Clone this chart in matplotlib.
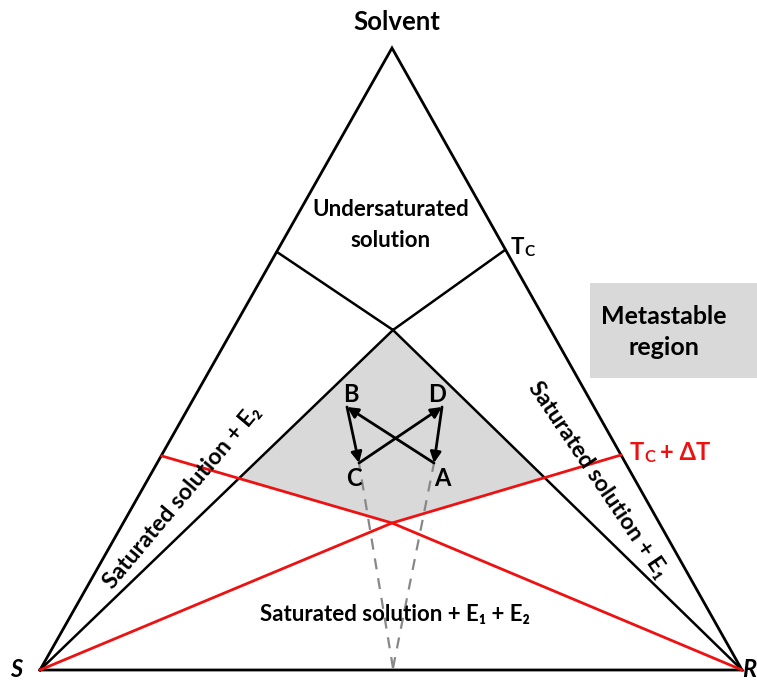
import numpy as np
import matplotlib
matplotlib.use("Agg")
import matplotlib.pyplot as plt
from matplotlib.patches import Polygon, Rectangle

plt.rcParams['font.family'] = ['Lato', 'DejaVu Sans']
plt.rcParams['font.weight'] = 'bold'

# diagram geometry (pixel coordinates of the reference)
vert_S = (40, 670)
vert_R = (742, 670)
vert_top = (392, 48)
junction = (393, 330)
tc_left = (277, 252)
tc_right = (505, 250)
red_cross = (392, 523)
red_left_end = (162, 456)
red_right_end = (621, 455)
dash_base = (393, 668)

# cycle points
cycle_names = ['A', 'B', 'C', 'D']
cycle_pts = {'A': (434, 463), 'B': (347, 407), 'C': (359, 463), 'D': (442, 407)}
cycle_label_pos = {'A': (442, 478), 'B': (351, 395), 'C': (354, 478), 'D': (437, 395)}


def intersect(p1, p2, p3, p4):
    p1, p2, p3, p4 = map(np.array, (p1, p2, p3, p4))
    d1 = p2 - p1
    d2 = p4 - p3
    a = np.array([d1, -d2]).T
    t = np.linalg.solve(a, p3 - p1)
    return p1 + t[0] * d1


fig = plt.figure(figsize=(7.57, 6.82), dpi=100)
ax = fig.add_axes([0, 0, 1, 1])
ax.set_xlim(0, 757)
ax.set_ylim(682, 0)
ax.axis('off')

# shaded metastable zone
left_c = intersect(vert_S, junction, red_cross, red_left_end)
right_c = intersect(vert_R, junction, red_cross, red_right_end)
ax.add_patch(Polygon([junction, left_c, red_cross, right_c], closed=True,
                     facecolor='#d9d9d9', edgecolor='none', zorder=1))

# legend box
ax.add_patch(Rectangle((590, 283), 170, 95, facecolor='#d9d9d9',
                       edgecolor='none', zorder=1))
ax.text(664, 332, 'Metastable\nregion', ha='center', va='center',
        fontsize=18, linespacing=1.45, zorder=3)

# triangle
tri = [vert_S, vert_top, vert_R, vert_S]
ax.plot([p[0] for p in tri], [p[1] for p in tri], color='black', lw=2, zorder=3,
        solid_joinstyle='miter')

# solubility lines at Tc
for a, b in [(vert_S, junction), (vert_R, junction), (junction, tc_left), (junction, tc_right)]:
    ax.plot([a[0], b[0]], [a[1], b[1]], color='black', lw=1.8, zorder=3)

# solubility lines at Tc + dT
for pts in [(vert_S, red_cross, red_right_end), (vert_R, red_cross, red_left_end)]:
    ax.plot([p[0] for p in pts], [p[1] for p in pts], color='#ee1111', lw=2, zorder=3)

# dashed guides
for n in ['C', 'A']:
    p = cycle_pts[n]
    ax.plot([dash_base[0], p[0]], [dash_base[1], p[1]], color='#888888', lw=1.6,
            dashes=(5, 4), zorder=2)

# cycle arrows A->B->C->D->A
for i, n in enumerate(cycle_names):
    m = cycle_names[(i + 1) % 4]
    ax.annotate('', xy=cycle_pts[m], xytext=cycle_pts[n],
                arrowprops=dict(arrowstyle='-|>', color='black', lw=2,
                                mutation_scale=16, shrinkA=0, shrinkB=0),
                zorder=4)
for n in cycle_names:
    x, y = cycle_label_pos[n]
    ax.text(x, y, n, ha='center', va='center', fontsize=17, zorder=5)

# labels
ax.text(397, 22, 'Solvent', ha='center', va='center', fontsize=18.5)
ax.text(391, 225, 'Undersaturated\nsolution', ha='center', va='center',
        fontsize=16, linespacing=1.55)
ax.text(517, 247, 'T', ha='center', va='center', fontsize=16)
ax.text(529, 252, 'C', ha='center', va='center', fontsize=11)
ax.text(637, 453, 'T', ha='center', va='center', fontsize=17, color='#ee1111')
ax.text(650, 457, 'C', ha='center', va='center', fontsize=12, color='#ee1111')
ax.text(660, 453, '+ ΔT', ha='left', va='center', fontsize=17, color='#ee1111')
ax.text(182, 497, 'Saturated solution + E₂', ha='center', va='center',
        fontsize=16.5, rotation=50, rotation_mode='anchor')
ax.text(598, 480, 'Saturated solution + E₁', ha='center', va='center',
        fontsize=16.5, rotation=-56, rotation_mode='anchor')
ax.text(395, 614, 'Saturated solution + E₁ + E₂', ha='center', va='center',
        fontsize=16)
ax.text(10, 681, 'S', ha='left', va='bottom', fontsize=17, style='italic')
ax.text(756, 681, 'R', ha='right', va='bottom', fontsize=17, style='italic')

fig.savefig('out.png', dpi=100)
